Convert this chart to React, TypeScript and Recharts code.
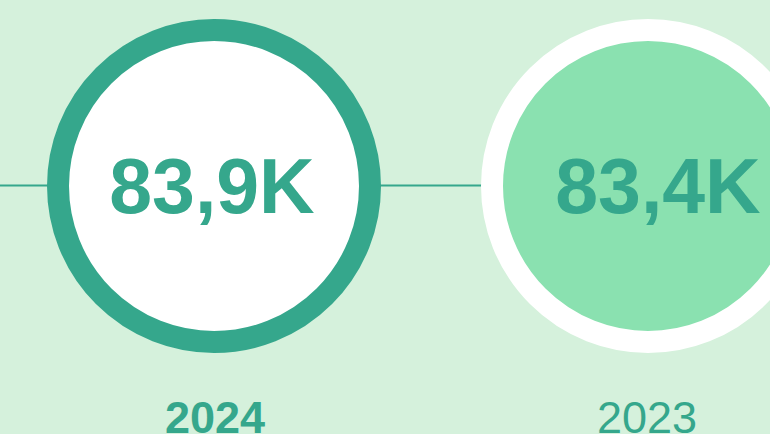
import React from "react";
import { ScatterChart, Scatter, XAxis, YAxis, ReferenceLine } from "recharts";

const years = ["2024", "2023"];
const values = ["83,9K", "83,4K"];
const positions = [0, 1];

const data = years.map((y, i) => ({ x: positions[i], y: 0, year: y, value: values[i] }));

const BG = "#d5f1dc";
const TEAL = "#35a78c";
const LIGHT = "#8ae1b0";

const Bubble = (props: any) => {
  const { cx, cy, payload, index } = props;
  const idx = typeof index === "number" ? index : years.indexOf(payload.year);
  const first = idx === 0;
  return (
    <g>
      <circle cx={cx} cy={cy} r={156} fill={first ? "#ffffff" : LIGHT} stroke={first ? TEAL : "#ffffff"} strokeWidth={22} />
      <text
        x={cx + (first ? -2 : 10)}
        y={cy + 27}
        textAnchor="middle"
        fontFamily="'Liberation Sans', Arial, sans-serif"
        fontWeight="bold"
        fontSize={77}
        fill={TEAL}
      >
        {payload.value}
      </text>
      <text
        x={cx + (first ? 1 : -1)}
        y={cy + 247}
        textAnchor="middle"
        fontFamily="'Liberation Sans', Arial, sans-serif"
        fontWeight={first ? "bold" : "normal"}
        fontSize={45}
        fill={TEAL}
      >
        {payload.year}
      </text>
    </g>
  );
};

export default function App() {
  return (
    <div style={{ position: "fixed", left: 0, top: 0, width: 770, height: 434, background: BG, overflow: "hidden" }}>
      <ScatterChart width={770} height={434} margin={{ top: 0, right: 0, bottom: 0, left: 0 }}>
        <XAxis type="number" dataKey="x" domain={[-0.4931, 1.2811]} hide allowDataOverflow />
        <YAxis type="number" dataKey="y" domain={[-248, 186]} hide allowDataOverflow />
        <ReferenceLine y={0.5} stroke={TEAL} strokeWidth={2} ifOverflow="extendDomain" />
        <Scatter data={data} shape={<Bubble />} isAnimationActive={false} />
      </ScatterChart>
    </div>
  );
}
